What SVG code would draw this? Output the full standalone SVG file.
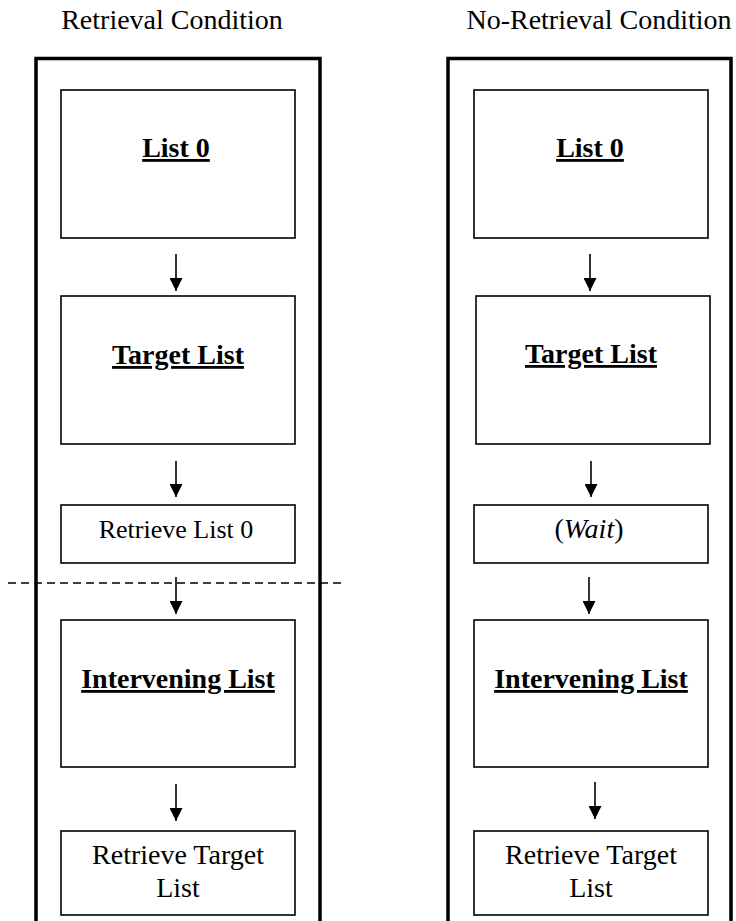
<svg xmlns="http://www.w3.org/2000/svg" width="736" height="921" viewBox="0 0 736 921">
<style>
text{font-family:"Liberation Serif","Times New Roman",serif;fill:#000;text-anchor:middle}
.title{font-size:28px}
.lbl{font-size:28px}
.small{font-size:26px}
.bold{font-size:28px;font-weight:bold;text-decoration:underline}
.outer{fill:none;stroke:#000;stroke-width:3.5}
.box{fill:#fff;stroke:#000;stroke-width:1.6}
.arr{stroke:#000;stroke-width:1.6;fill:none;marker-end:url(#ah)}
.dash{stroke:#000;stroke-width:1.6;stroke-dasharray:8 5;fill:none}
</style>
<defs>
<marker id="ah" markerUnits="userSpaceOnUse" markerWidth="13" markerHeight="13" refX="13" refY="6.5" orient="auto" viewBox="0 0 13 13">
<path d="M0,0 L13,6.5 L0,13 z" fill="#000"/>
</marker>
</defs>
<rect width="736" height="921" fill="#fff"/>

<g id="left-condition">
<text class="title" x="172" y="29">Retrieval Condition</text>
<rect class="outer" x="36" y="58.5" width="284" height="880"/>
</g>
<g id="right-condition">
<text class="title" x="599" y="29">No-Retrieval Condition</text>
<rect class="outer" x="448" y="58.5" width="283" height="880"/>
</g>

<g id="L-list0"><rect class="box" x="61" y="90" width="234" height="148"/><text class="bold" x="176" y="157">List 0</text></g>
<g id="L-target"><rect class="box" x="61" y="296" width="234" height="148"/><text class="bold" x="178" y="364">Target List</text></g>
<g id="L-retrieve0"><rect class="box" x="61" y="505" width="234" height="58"/><text class="small" x="176" y="538">Retrieve List 0</text></g>
<g id="L-intervening"><rect class="box" x="61" y="620" width="234" height="147"/><text class="bold" x="178" y="688">Intervening List</text></g>
<g id="L-retrieveT"><rect class="box" x="61" y="831" width="234" height="84"/><text class="lbl" x="178" y="864">Retrieve Target</text><text class="lbl" x="178" y="897">List</text></g>

<g id="R-list0"><rect class="box" x="474" y="90" width="234" height="148"/><text class="bold" x="590" y="157">List 0</text></g>
<g id="R-target"><rect class="box" x="476" y="296" width="234" height="148"/><text class="bold" x="591" y="363">Target List</text></g>
<g id="R-wait"><rect class="box" x="474" y="505" width="234" height="58"/><text class="lbl" x="589" y="538">(<tspan font-style="italic">Wait</tspan>)</text></g>
<g id="R-intervening"><rect class="box" x="474" y="620" width="234" height="147"/><text class="bold" x="591" y="688">Intervening List</text></g>
<g id="R-retrieveT"><rect class="box" x="474" y="831" width="234" height="84"/><text class="lbl" x="591" y="864">Retrieve Target</text><text class="lbl" x="591" y="897">List</text></g>

<g id="connectors">
<line class="arr" x1="176" y1="254" x2="176" y2="291"/>
<line class="arr" x1="176" y1="461" x2="176" y2="497"/>
<line class="arr" x1="176" y1="577" x2="176" y2="614"/>
<line class="arr" x1="176" y1="784" x2="176" y2="821"/>
<line class="arr" x1="590" y1="254" x2="590" y2="291"/>
<line class="arr" x1="591" y1="461" x2="591" y2="497"/>
<line class="arr" x1="589" y1="577" x2="589" y2="614"/>
<line class="arr" x1="595" y1="782" x2="595" y2="819"/>
<line class="dash" x1="8" y1="583" x2="346" y2="583"/>
</g>
</svg>
